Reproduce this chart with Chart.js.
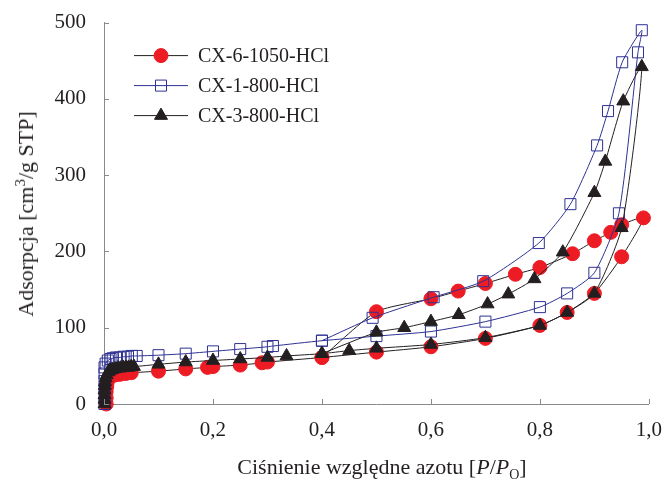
<!DOCTYPE html>
<html>
<head>
<meta charset="utf-8">
<script src="https://cdn.jsdelivr.net/npm/chart.js@4.4.1/dist/chart.umd.min.js"></script>
<style>
  html, body { margin: 0; padding: 0; background: #fff; }
  #wrap { position: relative; width: 668px; height: 485px; font-family: "Liberation Serif", serif; color: #231f20; }
  #chart { position: absolute; left: 0; top: 0; }
  .ytitle { position: absolute; left: 26px; top: 214px; transform: translate(-50%, -50%) rotate(-90deg); white-space: nowrap; font-size: 22px; }
  .xtitle { position: absolute; left: 382px; top: 467px; transform: translate(-50%, -50%); white-space: nowrap; font-size: 22px; }
  sup { font-size: 15px; vertical-align: 8px; line-height: 0; }
  sub { font-size: 14px; vertical-align: -5px; line-height: 0; }
</style>
</head>
<body>
<div id="wrap">
  <canvas id="chart" width="668" height="485"></canvas>
  <div class="ytitle">Adsorpcja [cm<sup>3</sup>/g STP]</div>
  <div class="xtitle">Ciśnienie względne azotu [<i>P</i>/<i>P</i><sub>O</sub>]</div>
</div>
<script>
// Series labels
const seriesNames = ['CX-6-1050-HCl', 'CX-1-800-HCl', 'CX-3-800-HCl']

// CX-6-1050-HCl: adsorption then desorption (P/Po, cm3/g)
const cx6P = [0.004, 0.004, 0.004, 0.005, 0.006, 0.008, 0.01, 0.015, 0.02, 0.025, 0.03, 0.04, 0.05,
  0.1, 0.15, 0.19, 0.2, 0.25, 0.29, 0.3, 0.4, 0.5, 0.6, 0.7, 0.8, 0.85, 0.9, 0.95, 0.99,
  0.95, 0.93, 0.9, 0.86, 0.8, 0.755, 0.7, 0.65, 0.6, 0.5, 0.4]
const cx6V = [0, 8, 16, 23, 29, 33, 35, 37, 38, 39, 39, 40, 41,
  43, 46, 48, 49, 51, 54, 55, 61, 68, 75, 86, 103, 120, 145, 193, 244,
  235, 225, 214, 197, 179, 170, 158, 148, 138, 121, 61]

// CX-1-800-HCl
const cx1P = [0.001, 0.001, 0.001, 0.001, 0.001, 0.001, 0.003, 0.007, 0.012, 0.016, 0.022, 0.029, 0.036, 0.044, 0.051, 0.06,
  0.1, 0.15, 0.2, 0.25, 0.3, 0.31, 0.4, 0.5, 0.6, 0.7, 0.8, 0.85, 0.9, 0.945, 0.98, 0.987,
  0.951, 0.925, 0.905, 0.856, 0.798, 0.696, 0.605, 0.493, 0.4]
const cx1V = [0, 10, 20, 30, 40, 48, 53, 57, 59, 60, 61, 61, 62, 62, 63, 63,
  64, 66, 69, 72, 75, 76, 83, 89, 95, 108, 127, 145, 172, 250, 461, 490,
  448, 384, 339, 262, 211, 161, 140, 113, 83]

// CX-3-800-HCl
const cx3P = [0.001, 0.001, 0.001, 0.001, 0.0015, 0.002, 0.003, 0.005, 0.008, 0.011, 0.015, 0.02, 0.025, 0.03, 0.035, 0.04, 0.045, 0.05, 0.055,
  0.1, 0.15, 0.2, 0.25, 0.3, 0.335, 0.4, 0.45, 0.5, 0.6, 0.7, 0.8, 0.85, 0.9, 0.95, 0.987,
  0.953, 0.92, 0.9, 0.842, 0.79, 0.742, 0.704, 0.651, 0.6, 0.551, 0.5, 0.4]
const cx3V = [0, 6, 12, 18, 24, 29, 34, 38, 42, 44, 45, 46, 47, 47, 48, 48, 48, 49, 49,
  52, 55, 57, 59, 61, 63, 66, 70, 73, 78, 87, 103, 120, 145, 231, 442,
  397, 318, 277, 199, 164, 144, 131, 117, 108, 100, 94, 66]

// Axis ticks
const xTicks = [0, 0.2, 0.4, 0.6, 0.8, 1.0]
const yTicks = [0, 100, 200, 300, 400, 500]

const COLORS = {
  red: '#ed1c24',
  blue: '#2e3192',
  black: '#231f20',
  axis: '#8a8a8a'
}

const toPoints = (xs, ys) => xs.map((x, i) => ({ x, y: ys[i] }))

const styles = [
  { pointStyle: 'circle', radius: 7, fill: COLORS.red, stroke: COLORS.red, line: COLORS.black },
  { pointStyle: 'rect', radius: 7.8, fill: 'rgba(0,0,0,0)', stroke: COLORS.blue, line: COLORS.blue },
  { pointStyle: 'triangle', radius: 7.5, fill: COLORS.black, stroke: COLORS.black, line: COLORS.black }
]

// inward tick marks on both axes
const innerTicks = {
  id: 'innerTicks',
  afterDraw(chart) {
    const { ctx, chartArea, scales } = chart
    ctx.save()
    ctx.strokeStyle = COLORS.axis
    ctx.lineWidth = 1
    ctx.beginPath()
    xTicks.forEach(v => {
      const x = Math.round(scales.x.getPixelForValue(v)) + 0.5
      ctx.moveTo(x, chartArea.bottom)
      ctx.lineTo(x, chartArea.bottom - 5)
    })
    yTicks.forEach(v => {
      const y = Math.round(scales.y.getPixelForValue(v)) + 0.5
      ctx.moveTo(chartArea.left, y)
      ctx.lineTo(chartArea.left + 5, y)
    })
    ctx.stroke()
    ctx.restore()
  }
}

// legend drawn inside the plot, line with marker in the middle
const insideLegend = {
  id: 'insideLegend',
  afterDraw(chart) {
    const { ctx, chartArea } = chart
    const x0 = chartArea.left + 30
    const x1 = x0 + 54
    ctx.save()
    seriesNames.forEach((name, i) => {
      const s = styles[i]
      const y = chartArea.top + 33 + i * 30
      ctx.strokeStyle = s.line
      ctx.lineWidth = 1
      ctx.beginPath()
      ctx.moveTo(x0, y)
      ctx.lineTo(x1, y)
      ctx.stroke()
      ctx.fillStyle = s.fill
      ctx.strokeStyle = s.stroke
      ctx.lineWidth = 1
      Chart.helpers.drawPoint(ctx, { pointStyle: s.pointStyle, radius: s.radius, rotation: 0, borderWidth: 1 }, (x0 + x1) / 2, y)
      ctx.fillStyle = COLORS.black
      ctx.font = '20px "Liberation Serif"'
      ctx.textBaseline = 'middle'
      ctx.fillText(name, x1 + 10, y + 1)
    })
    ctx.restore()
  }
}

const makeDataset = (i, xs, ys, order) => ({
  label: seriesNames[i],
  data: toPoints(xs, ys),
  showLine: true,
  tension: 0.2,
  clip: false,
  borderColor: styles[i].line,
  borderWidth: 1,
  pointStyle: styles[i].pointStyle,
  pointRadius: styles[i].radius,
  pointBackgroundColor: styles[i].fill,
  pointBorderColor: styles[i].stroke,
  pointBorderWidth: 1,
  order
})

new Chart(document.getElementById('chart'), {
  type: 'scatter',
  data: {
    datasets: [
      makeDataset(0, cx6P, cx6V, 3),
      makeDataset(1, cx1P, cx1V, 2),
      makeDataset(2, cx3P, cx3V, 1)
    ]
  },
  options: {
    responsive: false,
    animation: false,
    layout: { padding: { top: 21, right: 14, left: 0, bottom: 0 } },
    plugins: {
      legend: { display: false },
      tooltip: { enabled: false }
    },
    scales: {
      x: {
        type: 'linear',
        min: 0,
        max: 1,
        afterFit: (scale) => { scale.height = 81 },
        afterBuildTicks: (scale) => { scale.ticks = xTicks.map(v => ({ value: v })) },
        ticks: {
          color: COLORS.black,
          font: { family: 'Liberation Serif', size: 21 },
          padding: 6,
          callback: (v) => v.toFixed(1).replace('.', ',')
        },
        grid: { display: false },
        border: { display: true, color: COLORS.axis, width: 1 }
      },
      y: {
        min: 0,
        max: 500,
        afterFit: (scale) => { scale.width = 104 },
        afterBuildTicks: (scale) => { scale.ticks = yTicks.map(v => ({ value: v })) },
        ticks: {
          color: COLORS.black,
          font: { family: 'Liberation Serif', size: 21 },
          padding: 10
        },
        grid: { display: false },
        border: { display: true, color: COLORS.axis, width: 1 }
      }
    }
  },
  plugins: [innerTicks, insideLegend]
})
</script>
</body>
</html>
